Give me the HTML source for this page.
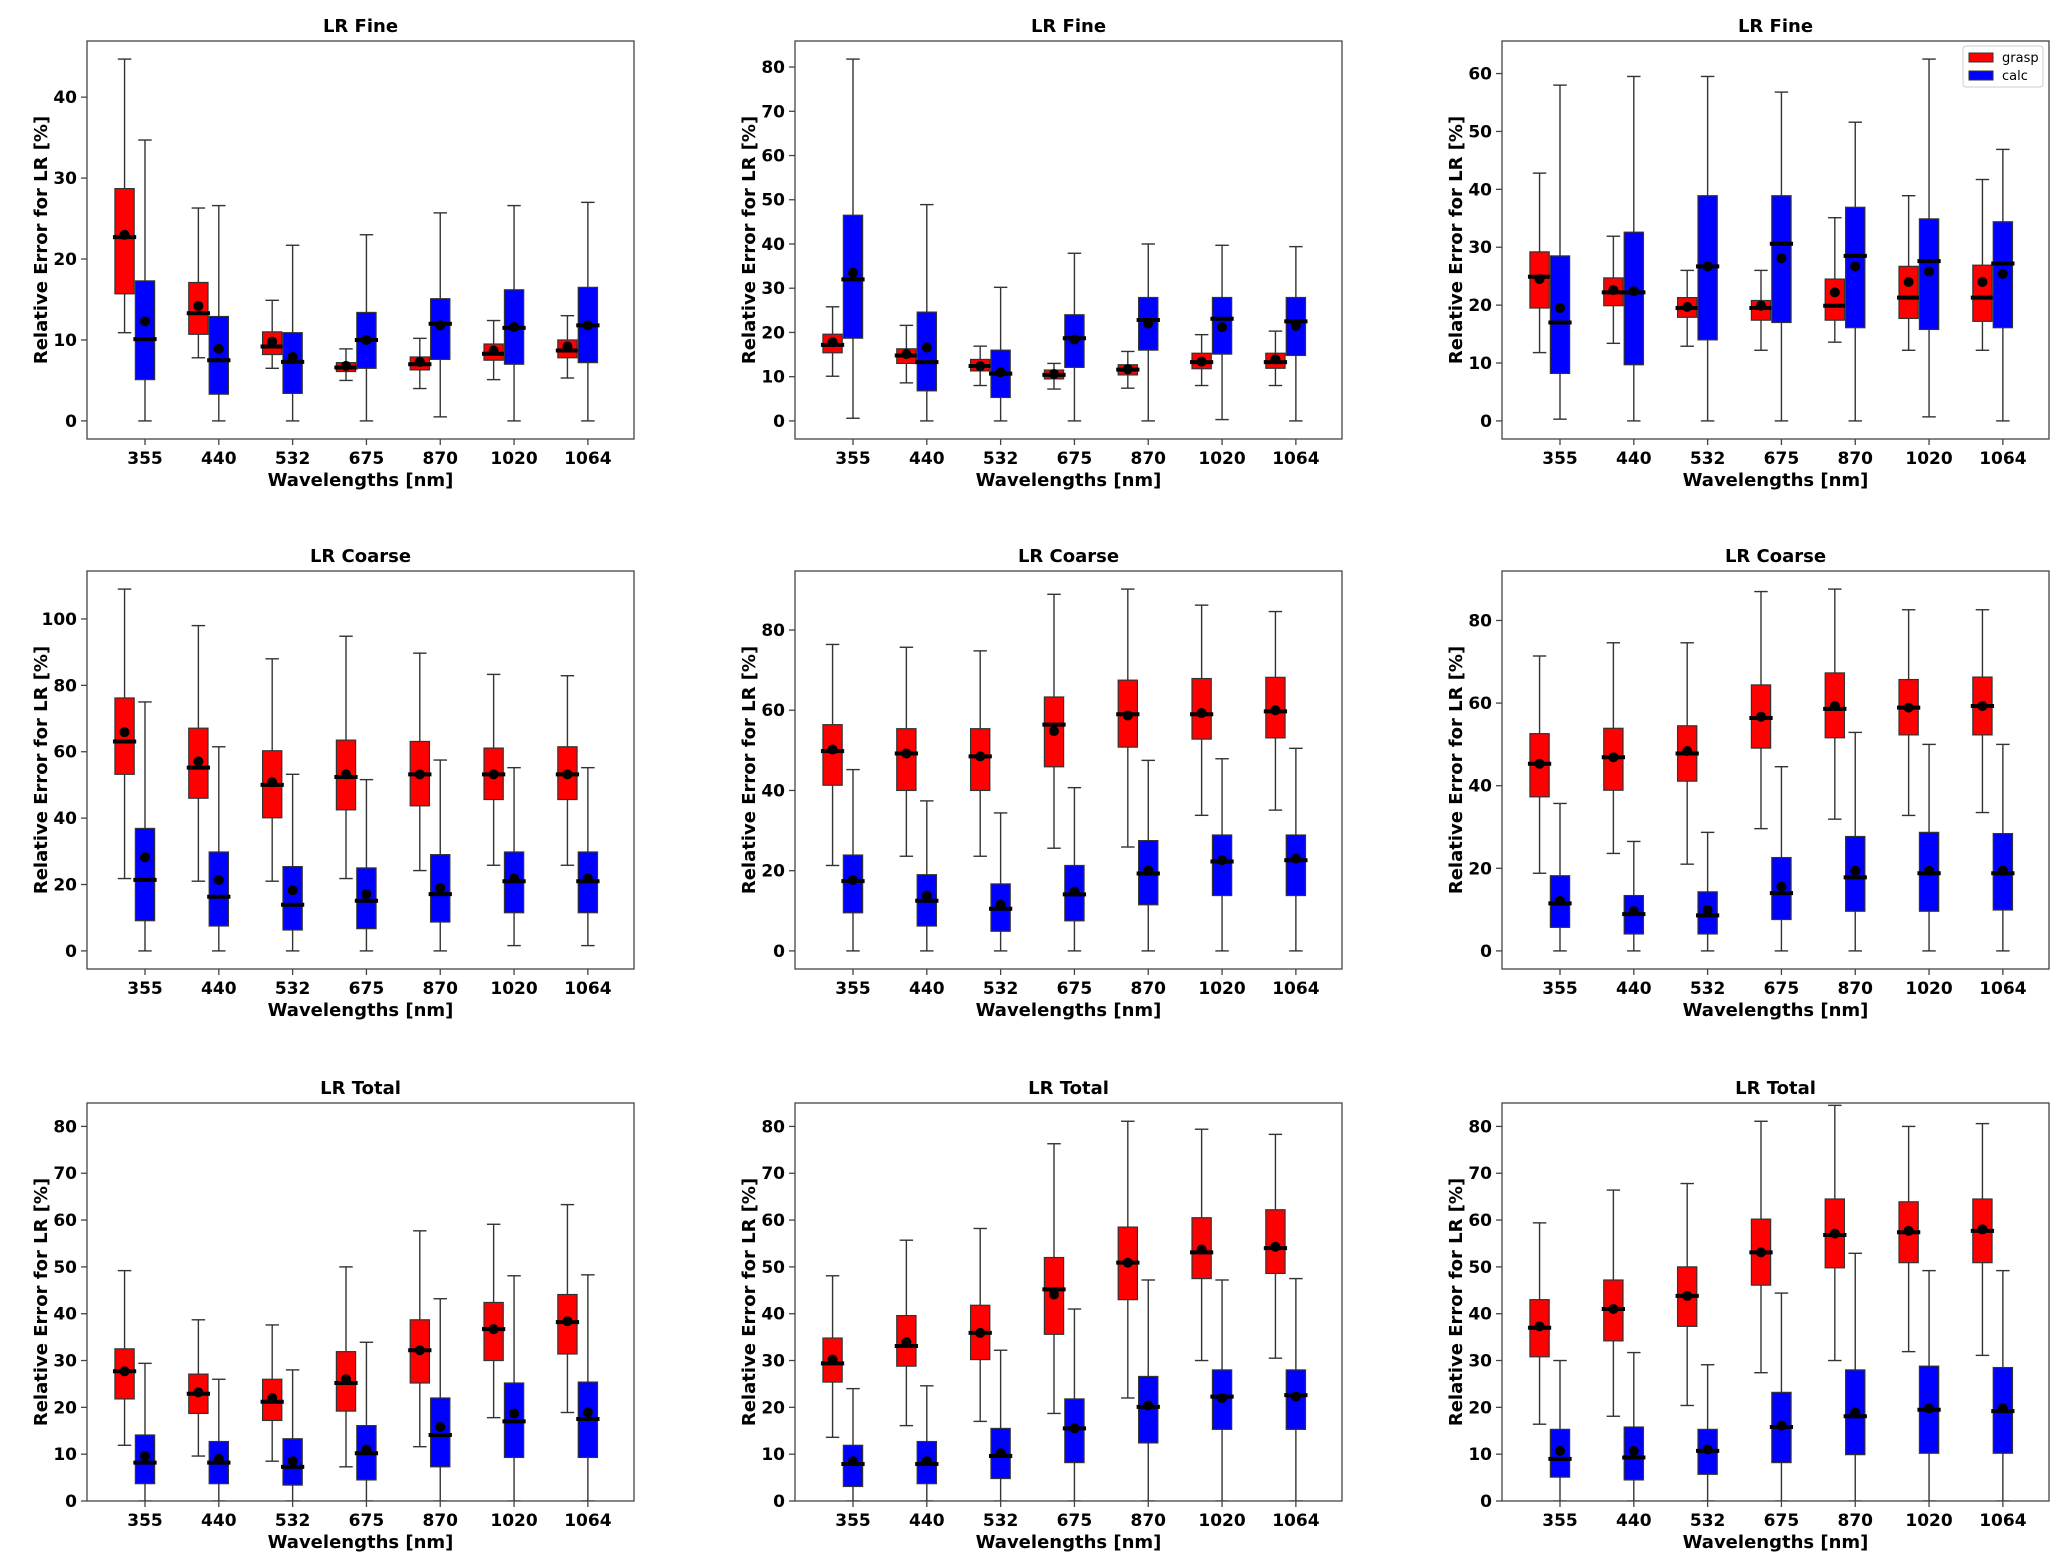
<!DOCTYPE html>
<html><head><meta charset="utf-8">
<style>
html,body{margin:0;padding:0;background:#fff;}
svg{display:block;font-family:"DejaVu Sans","Liberation Sans",sans-serif;}
</style></head>
<body>
<svg id="fig" width="2067" height="1567" viewBox="0 0 2067 1567" xmlns="http://www.w3.org/2000/svg"></svg>
<script>
// Categories
const categories = ["355","440","532","675","870","1020","1064"];
const panelTitles = ["LR Fine","LR Fine","LR Fine","LR Coarse","LR Coarse","LR Coarse","LR Total","LR Total","LR Total"];
const tickSteps = [10,10,10,20,20,20,10,10,10];
const fixedYlim = [null,null,null,null,null,null,[0,85],[0,85],[0,85]];
// Each stat row: [whiskerLow, q1, median, q3, whiskerHigh, mean]
const graspP1 = [[10.9,15.7,22.7,28.7,44.7,23.0],[7.8,10.7,13.3,17.1,26.3,14.2],[6.5,8.2,9.2,11.0,14.9,9.8],[5.0,6.1,6.6,7.2,8.9,6.8],[4.0,6.3,7.0,7.9,10.2,7.3],[5.1,7.5,8.3,9.5,12.4,8.7],[5.3,7.8,8.7,10.0,13.0,9.2]];
const calcP1 = [[0,5.1,10.1,17.3,34.7,12.3],[0,3.3,7.5,12.9,26.6,8.9],[0,3.4,7.3,10.9,21.7,7.9],[0,6.5,10.0,13.4,23.0,10.0],[0.5,7.6,12.0,15.1,25.7,11.8],[0,7.0,11.5,16.2,26.6,11.6],[0,7.2,11.8,16.5,27.0,11.8]];
const graspP2 = [[10.1,15.4,17.2,19.6,25.8,17.8],[8.6,13.0,14.8,16.3,21.6,15.1],[8.0,11.3,12.4,13.9,16.9,12.4],[7.2,9.5,10.4,11.5,13.0,10.6],[7.4,10.4,11.6,12.7,15.7,11.7],[8.0,11.8,13.3,15.3,19.5,13.4],[8.0,11.9,13.3,15.3,20.3,13.9]];
const calcP2 = [[0.6,18.7,32.0,46.5,81.8,33.5],[0,6.8,13.3,24.6,48.9,16.6],[0,5.3,10.7,16.0,30.2,11.0],[0,12.1,18.7,24.0,37.9,18.4],[0,16.0,22.8,27.9,40.0,22.0],[0.3,15.1,23.1,27.9,39.7,21.2],[0,14.8,22.5,27.9,39.4,21.5]];
const graspP3 = [[11.8,19.5,24.9,29.2,42.8,24.5],[13.4,19.9,22.2,24.7,31.9,22.6],[12.9,17.9,19.5,21.3,26.0,19.7],[12.2,17.4,19.5,20.8,26.0,19.9],[13.6,17.4,19.9,24.5,35.1,22.2],[12.2,17.7,21.3,26.7,38.9,24.0],[12.2,17.2,21.3,26.9,41.7,24.0]];
const calcP3 = [[0.3,8.2,17.0,28.5,58.0,19.5],[0,9.7,22.2,32.6,59.5,22.4],[0,14.0,26.7,38.9,59.5,26.7],[0,17.0,30.6,38.9,56.8,28.1],[0,16.1,28.5,36.9,51.6,26.7],[0.7,15.8,27.6,34.9,62.5,25.8],[0,16.1,27.2,34.4,46.9,25.4]];
const graspP4 = [[21.8,53.2,63.1,76.2,109,65.9],[21.0,46.0,55.2,67.1,98,57.1],[21.0,40.1,50.0,60.3,88,50.8],[21.8,42.5,52.4,63.5,94.8,53.2],[24.2,43.7,53.2,63.1,89.7,53.2],[25.8,45.6,53.2,61.1,83.3,53.2],[25.8,45.6,53.2,61.5,82.9,53.2]];
const calcP4 = [[0,9.1,21.4,36.9,75,28.2],[0,7.5,16.3,29.8,61.5,21.4],[0,6.3,13.9,25.4,53.2,18.3],[0,6.7,15.1,25.0,51.6,17.1],[0,8.7,17.1,29.0,57.5,19.0],[1.6,11.5,21.0,29.8,55.2,21.8],[1.6,11.5,21.0,29.8,55.2,21.8]];
const graspP5 = [[21.3,41.3,49.8,56.4,76.4,50.2],[23.6,40.0,49.2,55.4,75.7,49.2],[23.6,40.0,48.5,55.4,74.8,48.5],[25.6,45.9,56.4,63.3,88.9,54.8],[25.9,50.8,59.0,67.5,90.2,58.7],[33.8,52.8,59.0,67.9,86.2,59.3],[35.1,53.1,59.7,68.2,84.6,60.0]];
const calcP5 = [[0,9.5,17.4,23.9,45.2,17.7],[0,6.2,12.5,19.0,37.4,13.8],[0,4.9,10.5,16.7,34.4,11.5],[0,7.5,14.1,21.3,40.7,14.8],[0,11.5,19.3,27.5,47.5,20.0],[0,13.8,22.3,28.9,47.9,22.6],[0,13.8,22.6,28.9,50.5,23.0]];
const graspP6 = [[18.8,37.3,45.3,52.6,71.4,45.3],[23.6,38.9,46.9,53.9,74.6,46.9],[21.0,41.1,47.8,54.5,74.6,48.4],[29.6,49.1,56.4,64.4,87.0,56.7],[31.9,51.6,58.6,67.3,87.6,59.3],[32.8,52.3,58.9,65.7,82.6,58.9],[33.5,52.3,59.3,66.3,82.6,59.3]];
const calcP6 = [[0,5.7,11.5,18.2,35.7,12.1],[0,4.1,8.9,13.4,26.5,9.6],[0,4.1,8.6,14.3,28.7,9.9],[0,7.6,14.0,22.6,44.6,15.6],[0,9.6,17.8,27.7,52.9,19.4],[0,9.6,18.8,28.7,50.0,19.4],[0,9.9,18.8,28.4,50.0,19.4]];
const graspP7 = [[11.9,21.8,27.7,32.5,49.2,27.7],[9.6,18.7,22.9,27.1,38.7,23.2],[8.5,17.2,21.2,26.0,37.6,22.0],[7.3,19.2,25.2,31.9,50.0,26.0],[11.6,25.2,32.2,38.7,57.7,32.2],[17.8,30.0,36.7,42.4,59.1,36.7],[18.9,31.4,38.2,44.1,63.3,38.4]];
const calcP7 = [[0,3.7,8.2,14.1,29.4,9.6],[0,3.7,8.2,12.7,26.0,9.0],[0,3.4,7.3,13.3,28.0,8.5],[0,4.5,10.2,16.1,33.9,11.0],[0,7.3,14.1,22.0,43.2,15.8],[0,9.3,17.0,25.2,48.1,18.7],[0,9.3,17.5,25.4,48.3,18.9]];
const graspP8 = [[13.6,25.4,29.4,34.8,48.1,30.2],[16.1,28.8,33.1,39.6,55.7,33.9],[17.0,30.2,35.9,41.8,58.2,35.9],[18.7,35.6,45.2,52.0,76.3,44.1],[22.0,43.0,50.9,58.5,81.1,50.9],[30.0,47.5,53.1,60.5,79.4,53.7],[30.5,48.6,54.0,62.2,78.3,54.3]];
const calcP8 = [[0,3.1,7.9,11.9,24.0,8.5],[0,3.7,7.9,12.7,24.6,8.5],[0,4.8,9.6,15.5,32.2,10.2],[0,8.2,15.5,21.8,41.0,15.5],[0,12.4,20.1,26.6,47.2,20.4],[0,15.3,22.3,28.0,47.2,22.0],[0,15.3,22.6,28.0,47.5,22.3]];
const graspP9 = [[16.4,30.8,37.0,43.0,59.4,37.3],[18.1,34.2,41.0,47.2,66.4,41.0],[20.4,37.3,43.8,50.0,67.8,43.8],[27.4,46.1,53.1,60.2,81.1,53.1],[30.0,49.8,56.8,64.5,84.5,57.1],[31.9,50.9,57.4,63.9,80.0,57.7],[31.1,50.9,57.7,64.5,80.6,58.0]];
const calcP9 = [[0,5.1,9.0,15.3,30.0,10.7],[0,4.5,9.3,15.8,31.7,10.7],[0,5.7,10.7,15.3,29.1,11.0],[0,8.2,15.8,23.2,44.4,16.1],[0,9.9,18.1,28.0,52.9,18.9],[0,10.2,19.5,28.8,49.2,19.8],[0,10.2,19.2,28.5,49.2,19.8]];

const graspAll = [graspP1,graspP2,graspP3,graspP4,graspP5,graspP6,graspP7,graspP8,graspP9];
const calcAll = [calcP1,calcP2,calcP3,calcP4,calcP5,calcP6,calcP7,calcP8,calcP9];

const NS = "http://www.w3.org/2000/svg";
const svg = document.getElementById('fig');
function mk(tag, attrs, parent){
  const e = document.createElementNS(NS, tag);
  for (const k in attrs) e.setAttribute(k, attrs[k]);
  (parent||svg).appendChild(e);
  return e;
}
const colLefts = [87, 795, 1502];
const rowTops = [41, 571, 1103];
const W = 547, H = 398;
const S = W/415;
for (let p=0; p<9; p++){
  const L = colLefts[p%3], T = rowTops[Math.floor(p/3)];
  const g = mk('g', {});
  
  
  const red = graspAll[p], blue = calcAll[p];
  let ymin, ymax;
  if (fixedYlim[p]) { ymin = fixedYlim[p][0]; ymax = fixedYlim[p][1]; }
  else {
    let lo = Infinity, hi = -Infinity;
    [red, blue].forEach(s => s.forEach(r => { lo = Math.min(lo, r[0]); hi = Math.max(hi, r[4]); }));
    const r = hi - lo; ymin = lo - 0.05*r; ymax = hi + 0.05*r;
  }
  const y = v => T + H - (v - ymin)/(ymax - ymin)*H;
  const x = i => L + (44 + 56*i)*S;
  const cid = 'clip' + p;
  const cp = mk('clipPath', {id: cid}, g);
  mk('rect', {x: L, y: T, width: W, height: H}, cp);
  const plot = mk('g', {'clip-path': 'url(#' + cid + ')'}, g);
  const bw = 14.6*S, off = -15.5*S;
  [[red, '#ff0000', off, 'grasp'], [blue, '#0000ff', 0, 'calc']].forEach(([set, col, o, nm]) => {
    set.forEach((r, i) => {
      const cx = x(i) + o;
      const wl = mk('line', {x1: cx, x2: cx, y1: y(r[0]), y2: y(r[1]), stroke: '#333', 'stroke-width': 1.4}, plot);
      
      
      const wh = mk('line', {x1: cx, x2: cx, y1: y(r[3]), y2: y(r[4]), stroke: '#333', 'stroke-width': 1.4}, plot);
      
      
      [r[0], r[4]].forEach(v => mk('line', {x1: cx - bw*0.35, x2: cx + bw*0.35, y1: y(v), y2: y(v), stroke: '#333', 'stroke-width': 1.4}, plot));
      const b = mk('rect', {x: cx - bw/2, y: y(r[3]), width: bw, height: Math.max(0.5, y(r[1]) - y(r[3])), fill: col, stroke: '#333', 'stroke-width': 1.2}, plot);
      
      
      const m = mk('line', {x1: cx - bw/2 - 2, x2: cx + bw/2 + 2, y1: y(r[2]), y2: y(r[2]), stroke: '#000', 'stroke-width': 4}, plot);
      
      
      const d = mk('circle', {cx: cx, cy: y(r[5]), r: 5, fill: '#000'}, plot);
      
      
    });
  });
  const fr = mk('rect', {x: L, y: T, width: W, height: H, fill: 'none', stroke: '#444', 'stroke-width': 1.3}, g);
  
  
  const st = tickSteps[p];
  for (let v = Math.ceil(ymin/st)*st; v <= ymax + 1e-9; v += st) {
    mk('line', {x1: L - 6, x2: L, y1: y(v), y2: y(v), stroke: '#444', 'stroke-width': 1.3}, g);
    const t = mk('text', {x: L - 10, y: y(v) + 6, 'text-anchor': 'end', 'font-size': 17, 'font-weight': 'bold', fill: '#000'}, g);
    t.textContent = v;
    
    
  }
  categories.forEach((c, i) => {
    mk('line', {x1: x(i), x2: x(i), y1: T + H, y2: T + H + 6, stroke: '#444', 'stroke-width': 1.3}, g);
    const t = mk('text', {x: x(i), y: T + H + 25, 'text-anchor': 'middle', 'font-size': 17, 'font-weight': 'bold', fill: '#000'}, g);
    t.textContent = c;
    
    
  });
  const xl = mk('text', {x: L + W/2, y: T + H + 47, 'text-anchor': 'middle', 'font-size': 18, 'font-weight': 'bold', fill: '#000'}, g);
  xl.textContent = 'Wavelengths [nm]';
  
  
  const yl = mk('text', {x: 0, y: 0, transform: 'translate(' + (L - 40) + ',' + (T + H/2) + ') rotate(-90)', 'text-anchor': 'middle', 'font-size': 18, 'font-weight': 'bold', fill: '#000'}, g);
  yl.textContent = 'Relative Error for LR [%]';
  
  
  const tt = mk('text', {x: L + W/2, y: T - 9, 'text-anchor': 'middle', 'font-size': 18, 'font-weight': 'bold', fill: '#000'}, g);
  tt.textContent = panelTitles[p];
  
  
}
const lg = mk('g', {});


mk('rect', {x: 1963, y: 46, width: 80, height: 41, rx: 3, fill: '#fff', stroke: '#ccc', 'stroke-width': 1}, lg);
[['grasp', '#ff0000', 53], ['calc', '#0000ff', 71]].forEach(([n, c, yy]) => {
  const e = mk('g', {}, lg);
  
  
  mk('rect', {x: 1969, y: yy, width: 24, height: 9, fill: c, stroke: '#333', 'stroke-width': 1}, e);
  const t = mk('text', {x: 2002, y: yy + 9, 'font-size': 13, fill: '#000'}, e);
  t.textContent = n;
});
</script>
</body></html>
